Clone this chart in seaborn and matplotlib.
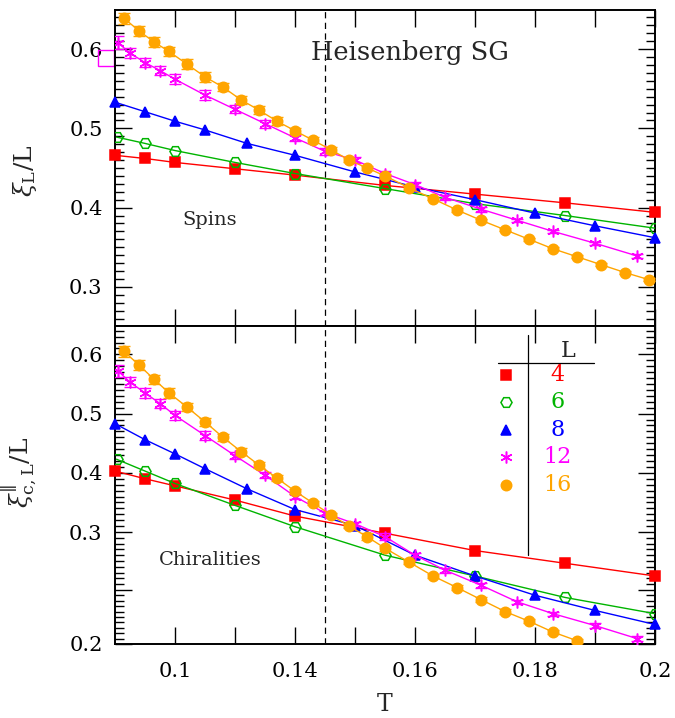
import matplotlib

matplotlib.use("Agg")
import matplotlib.pyplot as plt
import matplotlib.ticker as mticker
import numpy as np
import seaborn as sns

# ---------------------------------------------------------------------------
# Data: xi_L / L (spins) and xi_c,L / L (chiralities)
# ---------------------------------------------------------------------------
T_L4 = [0.08, 0.09, 0.10, 0.12, 0.14, 0.155, 0.17, 0.185, 0.20]
T_L6 = [0.0805, 0.09, 0.10, 0.12, 0.14, 0.155, 0.17, 0.185, 0.20]
T_L8 = [0.08, 0.09, 0.10, 0.11, 0.124, 0.14, 0.15, 0.16, 0.17, 0.18, 0.19, 0.20]
T_L12 = [0.081, 0.085, 0.09, 0.095, 0.10, 0.11, 0.12, 0.13, 0.14, 0.145,
         0.15, 0.155, 0.16, 0.165, 0.171, 0.177, 0.183, 0.19, 0.197]
T_L16 = [0.083, 0.088, 0.093, 0.098, 0.104, 0.11, 0.116, 0.122, 0.128, 0.134,
         0.14, 0.143, 0.146, 0.149, 0.152, 0.155, 0.159, 0.163, 0.167, 0.171,
         0.175, 0.179, 0.183, 0.187, 0.191, 0.195, 0.199]

SPIN_L4 = [0.466, 0.462, 0.457, 0.449, 0.441, 0.428, 0.417, 0.406, 0.394]
SPIN_L6 = [0.489, 0.481, 0.472, 0.457, 0.443, 0.424, 0.405, 0.390, 0.374]
SPIN_L8 = [0.533, 0.521, 0.509, 0.498, 0.481, 0.466, 0.445, 0.426, 0.410,
           0.393, 0.377, 0.362]
SPIN_L12 = [0.608, 0.595, 0.583, 0.573, 0.562, 0.542, 0.524, 0.506, 0.488,
            0.471, 0.460, 0.443, 0.429, 0.413, 0.398, 0.384, 0.370, 0.355, 0.339]
SPIN_L16 = [0.639, 0.623, 0.609, 0.597, 0.581, 0.565, 0.552, 0.536, 0.523,
            0.509, 0.497, 0.485, 0.473, 0.460, 0.450, 0.440, 0.425, 0.411,
            0.397, 0.384, 0.372, 0.360, 0.348, 0.338, 0.328, 0.318, 0.309]

SPIN_ERR_L12 = [0.008, 0.006, 0.006, 0.006, 0.006, 0.006, 0.005, 0.005, 0.004,
                0.004, 0.004, 0.003, 0.003, 0.003, 0.003, 0.002, 0.002, 0.002, 0.002]
SPIN_ERR_L16 = [0.007, 0.006, 0.006, 0.006, 0.006, 0.006, 0.005, 0.005, 0.005,
                0.005, 0.004, 0.004, 0.004, 0.003, 0.003, 0.003, 0.003, 0.002,
                0.002, 0.002, 0.002, 0.002, 0.002, 0.002, 0.002, 0.002, 0.002]

CHI_L4 = [0.403, 0.390, 0.378, 0.354, 0.327, 0.299, 0.284, 0.273, 0.262]
CHI_L6 = [0.423, 0.403, 0.382, 0.345, 0.309, 0.280, 0.262, 0.243, 0.228]
CHI_L8 = [0.483, 0.456, 0.432, 0.407, 0.373, 0.338, 0.311, 0.280, 0.262,
          0.245, 0.231, 0.218]
CHI_L12 = [0.572, 0.553, 0.535, 0.517, 0.497, 0.463, 0.429, 0.396, 0.360,
           0.332, 0.314, 0.296, 0.280, 0.267, 0.254, 0.239, 0.228, 0.217, 0.205]
CHI_L16 = [0.605, 0.582, 0.558, 0.535, 0.511, 0.486, 0.460, 0.436, 0.413,
           0.391, 0.369, 0.349, 0.329, 0.310, 0.296, 0.286, 0.274, 0.262,
           0.252, 0.241, 0.230, 0.221, 0.211, 0.203]

CHI_ERR_L12 = [0.010, 0.008, 0.008, 0.008, 0.008, 0.007, 0.006, 0.005, 0.004,
               0.004, 0.003, 0.003, 0.002, 0.002, 0.002, 0.002, 0.002, 0.002, 0.002]
CHI_ERR_L16 = [0.009, 0.008, 0.008, 0.008, 0.007, 0.007, 0.006, 0.006, 0.005,
               0.005, 0.004, 0.004, 0.003, 0.003, 0.003, 0.002, 0.002, 0.002,
               0.002, 0.002, 0.002, 0.002, 0.002, 0.002]

# stray open square drawn just left of the upper panel
EXTRA_T = [0.077]
EXTRA_SPIN = [0.5886]

T_CROSS = 0.145
SIZES = ["4", "6", "8", "12", "16"]

X_TICKS = [0.10, 0.12, 0.14, 0.15, 0.16, 0.17, 0.18, 0.19, 0.20]
X_TICK_LABELS = ["0.1", "", "0.14", "", "0.16", "", "0.18", "", "0.2"]
CHI_TICKS = [0.20, 0.25, 0.30, 0.40, 0.50, 0.60]
CHI_TICK_LABELS = ["0.2", "", "0.3", "0.4", "0.5", "0.6"]

# ---------------------------------------------------------------------------
# Axis mappings of the original figure (piecewise linear)
# ---------------------------------------------------------------------------
T_KNOTS = [0.0, 0.08, 0.10, 0.14, 0.20, 0.30]
T_POS = [-125.0, 115.0, 175.0, 295.0, 655.0, 1255.0]
CHI_KNOTS = [0.0, 0.20, 0.25, 0.30, 0.60, 1.00]
CHI_POS = [-216.0, 0.0, 54.0, 111.7, 289.0, 525.4]


def t_forward(t):
    return np.interp(t, T_KNOTS, T_POS)


def t_inverse(p):
    return np.interp(p, T_POS, T_KNOTS)


def chi_forward(v):
    return np.interp(v, CHI_KNOTS, CHI_POS)


def chi_inverse(p):
    return np.interp(p, CHI_POS, CHI_KNOTS)


COLORS = {"4": "#ff0000", "6": "#00b400", "8": "#0000ff",
          "12": "#ff00ff", "16": "#ffa500"}
MARKERS = {"4": "s", "6": "H", "8": "^", "12": (6, 2, 0), "16": "o"}
MSIZE = {"4": 6.5, "6": 8, "8": 7.5, "12": 8.5, "16": 7.5}
HOLLOW = {"4": False, "6": True, "8": False, "12": False, "16": False}
UNCLIPPED = {"4": True, "6": False, "8": True, "12": False, "16": False}

sns.set_theme(style="ticks")
plt.rcParams["font.family"] = ["DejaVu Serif"]
plt.rcParams["mathtext.fontset"] = "dejavuserif"

fig = plt.figure(figsize=(6.75, 7.18), dpi=100)
ax_top = fig.add_axes([0.1704, 0.5460, 0.8, 0.4401])
ax_bot = fig.add_axes([0.1704, 0.1031, 0.8, 0.4429])

panels = [
    (ax_top, {"4": (T_L4, SPIN_L4, None), "6": (T_L6, SPIN_L6, None),
              "8": (T_L8, SPIN_L8, None), "12": (T_L12, SPIN_L12, SPIN_ERR_L12),
              "16": (T_L16, SPIN_L16, SPIN_ERR_L16)}),
    (ax_bot, {"4": (T_L4, CHI_L4, None), "6": (T_L6, CHI_L6, None),
              "8": (T_L8, CHI_L8, None), "12": (T_L12, CHI_L12, CHI_ERR_L12),
              "16": (T_L16[:len(CHI_L16)], CHI_L16, CHI_ERR_L16)}),
]

for ax, series in panels:
    for z, size in enumerate(SIZES):
        t_vals, y_vals, y_err = series[size]
        color = COLORS[size]
        sns.lineplot(
            x=t_vals,
            y=y_vals,
            ax=ax,
            estimator=None,
            sort=False,
            color=color,
            linewidth=1,
            marker=MARKERS[size],
            markersize=MSIZE[size],
            markerfacecolor="none" if HOLLOW[size] else color,
            markeredgecolor=color,
            markeredgewidth=1.1,
            clip_on=not UNCLIPPED[size],
            zorder=3 + z,
        )
        if y_err is not None:
            ax.errorbar(t_vals, y_vals, yerr=y_err, fmt="none", ecolor=color,
                        elinewidth=1, capsize=4.5, capthick=1, zorder=3 + z)
    ax.axvline(T_CROSS, color="black", linewidth=0.9, linestyle=(0, (5, 3.5)),
               zorder=2)

ax_top.plot(EXTRA_T, EXTRA_SPIN, linestyle="none", marker="s", markersize=12,
            markerfacecolor="none", markeredgecolor=COLORS["12"],
            markeredgewidth=1, clip_on=False)

# scales, limits and ticks
for ax in (ax_top, ax_bot):
    ax.set_xscale("function", functions=(t_forward, t_inverse))
    ax.set_xlim(0.08, 0.20)
    ax.xaxis.set_major_locator(mticker.FixedLocator(X_TICKS))
    ax.xaxis.set_minor_locator(mticker.NullLocator())
    ax.tick_params(which="both", direction="in", top=True, right=True,
                   labelsize=15, pad=9, colors="black")
    ax.tick_params(which="major", length=12.5, width=1)
    ax.tick_params(which="minor", length=6.5, width=1)
    for spine in ax.spines.values():
        spine.set_linewidth(1.4)
        spine.set_color("black")

ax_bot.tick_params(axis="x", pad=13)
ax_top.xaxis.set_major_formatter(mticker.NullFormatter())
ax_bot.xaxis.set_major_formatter(mticker.FixedFormatter(X_TICK_LABELS))

ax_top.set_ylim(0.2506, 0.6494)
ax_top.yaxis.set_major_locator(mticker.MultipleLocator(0.1))
ax_top.yaxis.set_minor_locator(mticker.MultipleLocator(0.01))
ax_top.yaxis.set_major_formatter(mticker.FormatStrFormatter("%.1f"))

ax_bot.set_yscale("function", functions=(chi_forward, chi_inverse))
ax_bot.set_ylim(0.20, 0.648)
ax_bot.yaxis.set_major_locator(mticker.FixedLocator(CHI_TICKS))
ax_bot.yaxis.set_major_formatter(mticker.FixedFormatter(CHI_TICK_LABELS))
ax_bot.yaxis.set_minor_locator(mticker.FixedLocator(
    np.concatenate([np.arange(0.205, 0.2999, 0.005), np.arange(0.31, 0.645, 0.01)])
))

# labels and annotations
ax_top.set_ylabel(r"$\xi_{\rm L}/{\rm L}$", fontsize=18)
ax_top.yaxis.set_label_coords(-0.14, 0.49)
ax_bot.set_ylabel(r"$\xi^{\Vert}_{\rm c,L}/{\rm L}$", fontsize=18)
ax_bot.yaxis.set_label_coords(-0.14, 0.54)
ax_top.set_xlabel("")
ax_bot.set_xlabel("T", fontsize=17)
ax_bot.xaxis.set_label_coords(0.5, -0.155)

ax_top.text(0.546, 0.867, "Heisenberg SG", transform=ax_top.transAxes,
            ha="center", va="center", fontsize=18.5)
ax_top.text(0.176, 0.335, "Spins", transform=ax_top.transAxes,
            ha="center", va="center", fontsize=14)
ax_bot.text(0.176, 0.264, "Chiralities", transform=ax_bot.transAxes,
            ha="center", va="center", fontsize=14)

# table-style legend in the lower panel
ax_bot.plot([0.765, 0.765], [0.972, 0.280], transform=ax_bot.transAxes,
            color="black", linewidth=0.9)
ax_bot.plot([0.709, 0.887], [0.884, 0.884], transform=ax_bot.transAxes,
            color="black", linewidth=0.9)
ax_bot.text(0.839, 0.922, "L", transform=ax_bot.transAxes, ha="center",
            va="center", fontsize=16)
for row, size in enumerate(SIZES):
    y_row = 0.846 - row * 0.0865
    color = COLORS[size]
    ax_bot.plot([0.724], [y_row], transform=ax_bot.transAxes, linestyle="none",
                marker=MARKERS[size], markersize=MSIZE[size],
                markerfacecolor="none" if HOLLOW[size] else color,
                markeredgecolor=color, markeredgewidth=1.1)
    ax_bot.text(0.819, y_row, size, transform=ax_bot.transAxes, ha="center",
                va="center", fontsize=16, color=color)

fig.savefig("out.png", dpi=100)
